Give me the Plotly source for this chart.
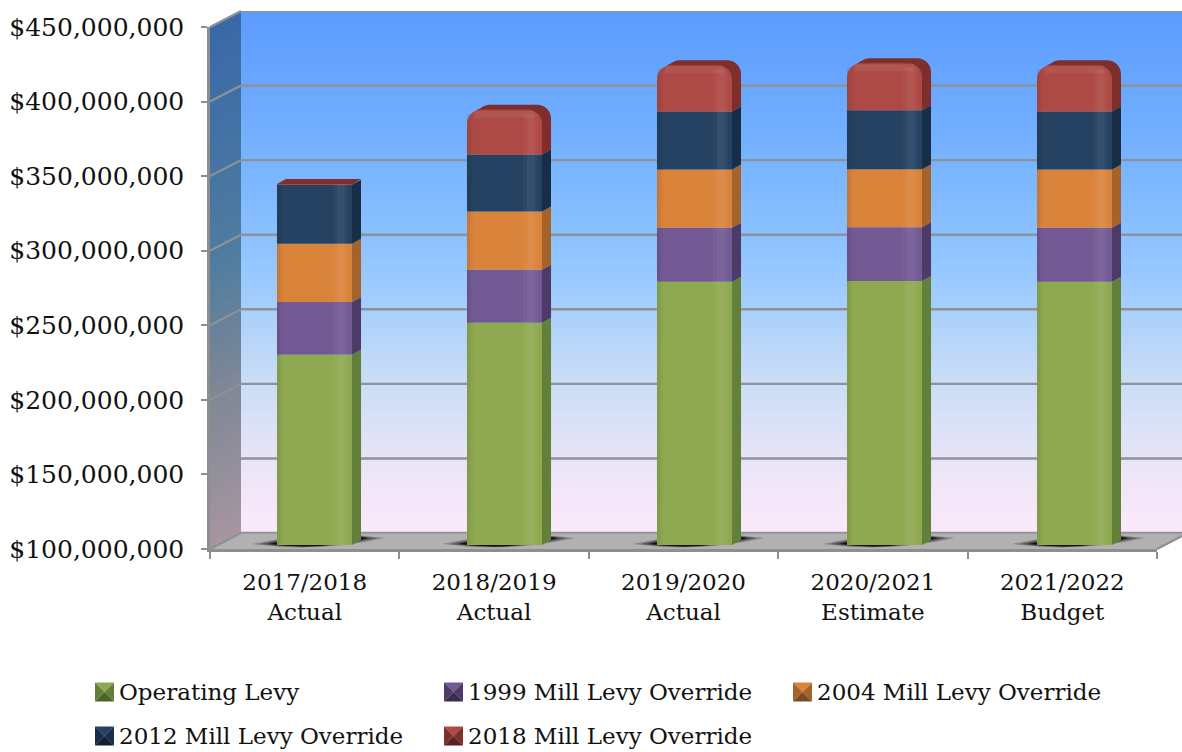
import numpy as np
import plotly.graph_objects as go

W, H = 1182, 752
FONT = "DejaVu Serif"

categories = ["2017/2018<br>Actual", "2018/2019<br>Actual", "2019/2020<br>Actual",
              "2020/2021<br>Estimate", "2021/2022<br>Budget"]
operating = [227.5e6, 249e6, 276.5e6, 277e6, 276.5e6]
mill_1999 = [35.5e6, 35.6e6, 36.2e6, 36e6, 36.2e6]
mill_2004 = [39e6, 39e6, 39e6, 39e6, 39e6]
mill_2012 = [39.5e6, 38.3e6, 39e6, 39.5e6, 39e6]
mill_2018 = [0.5e6, 30e6, 31e6, 31.5e6, 31e6]
y_ticks = [100e6, 150e6, 200e6, 250e6, 300e6, 350e6, 400e6, 450e6]

names = ["Operating Levy", "1999 Mill Levy Override", "2004 Mill Levy Override",
         "2012 Mill Levy Override", "2018 Mill Levy Override"]
series = [operating, mill_1999, mill_2004, mill_2012, mill_2018]
front_colors = ["#8fa951", "#735a94", "#da833b", "#264262", "#ae4a45"]
side_colors = ["#62803a", "#4c3b66", "#a4632c", "#182d47", "#7e2f2b"]
bottom_colors = ["#4c6329", "#392b4e", "#7d4a1f", "#0f2035", "#5f2120"]

# page positions of the fake 3d box, in pixels
FRONT_X = (210, 1157)
FRONT_Y = (27, 549)
BACK_X = (241, 1182)
BACK_Y = (11, 533)
BARS_X = (219.5, 1169.5)
BARS_Y = (23, 545)
BAR_W = 0.395          # in category units
PX_X = 1 / 190         # one pixel in category units
PX_Y = 350e6 / 522     # one pixel in dollars
DEPTH = (9, 5)         # bar depth in pixels
CORNER = 14


def dom_x(a, b):
    return [a / W, b / W]


def dom_y(top, bottom):
    return [1 - bottom / H, 1 - top / H]


def mix(c1, c2, t):
    return "rgb(%d,%d,%d)" % tuple(c1[i] + (c2[i] - c1[i]) * t for i in range(3))


fig = go.Figure()
shapes = []
annotations = []

# left wall, drawn as thin slanted bands so it gets a gradient
wall_stops = [(0, (58, 105, 170)), (0.45, (80, 125, 160)), (0.7, (128, 136, 150)), (1, (168, 150, 162))]
bands = 70
for i in range(bands):
    t = i / bands
    for k in range(len(wall_stops) - 1):
        if wall_stops[k][0] <= t <= wall_stops[k + 1][0]:
            s = (t - wall_stops[k][0]) / (wall_stops[k + 1][0] - wall_stops[k][0])
            col = mix(wall_stops[k][1], wall_stops[k + 1][1], s)
            break
    y0 = FRONT_Y[0] + (FRONT_Y[1] - FRONT_Y[0]) * t
    y1 = FRONT_Y[0] + (FRONT_Y[1] - FRONT_Y[0]) * (i + 1.3) / bands
    d = BACK_Y[0] - FRONT_Y[0]
    shapes.append(dict(type="path", xref="paper", yref="paper", layer="below", line_width=0, fillcolor=col,
                       path=f"M{FRONT_X[0] / W},{1 - y0 / H}L{BACK_X[0] / W},{1 - (y0 + d) / H}"
                            f"L{BACK_X[0] / W},{1 - (y1 + d) / H}L{FRONT_X[0] / W},{1 - y1 / H}Z"))

# floor
floor = [(FRONT_X[0], FRONT_Y[1]), (BACK_X[0], BACK_Y[1]), (1182, BACK_Y[1]), (1182, 536), (FRONT_X[1], FRONT_Y[1])]
shapes.append(dict(type="path", xref="paper", yref="paper", layer="below", line_width=0, fillcolor="#b1b1b1",
                   path="M" + "L".join(f"{x / W},{1 - y / H}" for x, y in floor) + "Z"))

# slanted grid lines on the left wall, and the edge up to the right of the floor
for i in range(len(y_ticks)):
    frac = i / (len(y_ticks) - 1)
    yf = FRONT_Y[1] - (FRONT_Y[1] - FRONT_Y[0]) * frac
    yb = BACK_Y[1] - (BACK_Y[1] - BACK_Y[0]) * frac
    shapes.append(dict(type="line", xref="paper", yref="paper", layer="below",
                       x0=FRONT_X[0] / W, y0=1 - yf / H, x1=BACK_X[0] / W, y1=1 - yb / H,
                       line=dict(color="#8e9296", width=2.2)))
shapes.append(dict(type="line", xref="paper", yref="paper", layer="below",
                   x0=FRONT_X[1] / W, y0=1 - FRONT_Y[1] / H, x1=1, y1=1 - 536 / H,
                   line=dict(color="#8e8e8e", width=2)))
shapes.append(dict(type="line", xref="paper", yref="paper", layer="below",
                   x0=BACK_X[0] / W, y0=1 - BACK_Y[1] / H, x1=1, y1=1 - BACK_Y[1] / H,
                   line=dict(color="#9a9a9a", width=1.5)))

# soft shadows on the floor under the bars
for i in range(len(categories)):
    cx = BARS_X[0] + (i + 0.5) * 190 + 4
    cy = 541
    for reach, thick, alpha in [(66, 9, 0.25), (58, 8, 0.4), (50, 7, 0.85)]:
        path = (f"M{(cx - reach) / W},{1 - (cy + 3) / H}"
                f"Q{cx / W},{1 - (cy + thick + 3) / H} {(cx + reach) / W},{1 - (cy - 3) / H}"
                f"Q{cx / W},{1 - (cy - thick - 3) / H} {(cx - reach) / W},{1 - (cy + 3) / H}Z")
        shapes.append(dict(type="path", xref="paper", yref="paper", layer="below", line_width=0,
                           fillcolor=f"rgba(10,5,10,{alpha})", path=path))

# back wall gradient, then its grid lines
fig.add_trace(go.Heatmap(x=[0, 1], y=[y_ticks[0], y_ticks[-1]], z=[[0, 0], [1, 1]], zsmooth="best",
                         showscale=False, hoverinfo="skip", xaxis="x2", yaxis="y2",
                         colorscale=[[0, "#fbe9fb"], [0.1, "#f0e6f8"], [0.3, "#c8dcf6"], [0.5, "#97c8ff"],
                                     [0.65, "#7fb9ff"], [0.85, "#6aa8ff"], [1, "#5b9bfd"]]))
grid_x, grid_y = [], []
for v in y_ticks:
    grid_x += [0, 1, None]
    grid_y += [v, v, None]
fig.add_trace(go.Scatter(x=grid_x, y=grid_y, mode="lines", cliponaxis=False, hoverinfo="skip", showlegend=False,
                         line=dict(color="#8e9296", width=2.4), xaxis="x2", yaxis="y2"))

x_pos = np.arange(len(categories))
values = np.array(series, dtype=float)
bases = np.vstack([np.zeros(len(categories)), np.cumsum(values, axis=0)[:-1]])
tops = bases + values
red = len(series) - 1
rounded = values[red] > 10e6
dx = DEPTH[0] * PX_X
dy = DEPTH[1] * PX_Y
# plotly rounds both ends of a bar with a base, so a square block goes over the lower end
square = np.where(rounded, values[red] - CORNER * 1.2 * PX_Y, values[red])

# rounded back of the top segment, swept in two steps on shifted axes
for frac, xa, ya in [(1.0, "x3", "y3"), (0.5, "x4", "y4")]:
    fig.add_trace(go.Bar(x=x_pos[rounded], y=values[red][rounded], base=bases[red][rounded], width=BAR_W,
                         marker=dict(color=side_colors[red], cornerradius=CORNER, line_width=0),
                         hoverinfo="skip", showlegend=False, xaxis=xa, yaxis=ya))
    fig.add_trace(go.Bar(x=x_pos[rounded], y=square[rounded], base=bases[red][rounded], width=BAR_W,
                         marker=dict(color=side_colors[red], line_width=0),
                         hoverinfo="skip", showlegend=False, xaxis=xa, yaxis=ya))

# side faces
for s in range(len(series)):
    px, py = [], []
    for i in x_pos:
        x0 = i + BAR_W / 2
        top = tops[s][i] - (CORNER * PX_Y if s == red and rounded[i] else 0)
        low = max(bases[s][i], y_ticks[0])
        px += [x0, x0 + dx, x0 + dx, x0, None]
        py += [low, low + dy, top + dy, top, None]
        if s == red and not rounded[i]:
            px += [x0 - BAR_W, x0, x0 + dx, x0 - BAR_W + dx, None]
            py += [top, top, top + dy, top + dy, None]
    fig.add_trace(go.Scatter(x=px, y=py, mode="lines", fill="toself", fillcolor=side_colors[s], line_width=0,
                             hoverinfo="skip", showlegend=False, xaxis="x5", yaxis="y5"))

# front faces
for s in range(len(series)):
    fig.add_trace(go.Bar(x=x_pos, y=values[s], base=bases[s], width=BAR_W, name=names[s],
                         marker=dict(color=front_colors[s], line_width=0, cornerradius=CORNER if s == red else 0),
                         hovertemplate="%{y:$,.0f}<extra>" + names[s] + "</extra>", xaxis="x5", yaxis="y5"))
fig.add_trace(go.Bar(x=x_pos, y=square, base=bases[red], width=BAR_W, hoverinfo="skip", showlegend=False,
                     marker=dict(color=front_colors[red], line_width=0), xaxis="x5", yaxis="y5"))

# cylinder shading on the front faces
strip_tops = tops[red] - np.where(rounded, 4 * PX_Y, 0) - y_ticks[0]
strips = [(0, 3, "rgba(0,0,0,0.08)"), (3, 3, "rgba(0,0,0,0.03)"), (56, 4, "rgba(255,255,255,0.03)"),
          (60, 8, "rgba(255,255,255,0.07)"), (68, 3, "rgba(255,255,255,0.03)")]
for start, width, color in strips:
    fig.add_trace(go.Bar(x=x_pos, y=strip_tops, base=y_ticks[0], width=width * PX_X,
                         offset=-BAR_W / 2 + start * PX_X,
                         marker=dict(color=color, line_width=0), hoverinfo="skip", showlegend=False,
                         xaxis="x5", yaxis="y5"))

# lighter band along the rounded top
fig.add_trace(go.Bar(x=x_pos[rounded], y=[7 * PX_Y] * int(rounded.sum()), base=tops[red][rounded] - 8 * PX_Y,
                     width=BAR_W - 16 * PX_X, marker=dict(color="rgba(255,255,255,0.06)", line_width=0),
                     hoverinfo="skip", showlegend=False, xaxis="x5", yaxis="y5"))

# keeps the category axis with its labels and the dollar axis alive
fig.add_trace(go.Scatter(x=categories, y=[y_ticks[0]] * len(categories), mode="markers", opacity=0,
                         hoverinfo="skip", showlegend=False, xaxis="x", yaxis="y"))

# legend, with the bevelled swatches of the original
legend_x = [95, 444, 793, 95, 444]
legend_y = [692, 692, 692, 736, 736]
S = 9.5
for name, col, side, low, lx, ly in zip(names, front_colors, side_colors, bottom_colors, legend_x, legend_y):
    cx, cy = lx + S, ly
    corners = [(cx - S, cy - S), (cx + S, cy - S), (cx + S, cy + S), (cx - S, cy + S)]
    face_cols = [col, side, low, side]
    for k in range(4):
        a, b = corners[k], corners[(k + 1) % 4]
        shapes.append(dict(type="path", xref="paper", yref="paper", line_width=0, fillcolor=face_cols[k],
                           path=f"M{a[0] / W},{1 - a[1] / H}L{b[0] / W},{1 - b[1] / H}L{cx / W},{1 - cy / H}Z"))
    annotations.append(dict(text=name, x=(lx + 22) / W, y=1 - ly / H, xref="paper", yref="paper",
                            xanchor="left", yanchor="middle", showarrow=False,
                            font=dict(family=FONT, size=23, color="#111111")))

hidden = dict(visible=False, fixedrange=True)
cat_range = [-0.5, len(categories) - 0.5]
val_range = [y_ticks[0], y_ticks[-1]]


def shifted_axes(frac):
    xd = dom_x(BARS_X[0] + DEPTH[0] * frac, BARS_X[1] + DEPTH[0] * frac)
    yd = dom_y(BARS_Y[0] - DEPTH[1] * frac, BARS_Y[1] - DEPTH[1] * frac)
    return dict(hidden, domain=xd, range=cat_range), dict(hidden, domain=yd, range=val_range)


x3, y3 = shifted_axes(1.0)
x4, y4 = shifted_axes(0.5)

fig.update_layout(
    width=W, height=H, margin=dict(l=0, r=0, t=0, b=0), paper_bgcolor="white", plot_bgcolor="rgba(0,0,0,0)",
    font=dict(family=FONT, size=23, color="#111111"), barmode="overlay", showlegend=False,
    shapes=shapes, annotations=annotations,
    xaxis=dict(type="category", domain=dom_x(*FRONT_X), tickson="boundaries", ticks="outside", ticklen=7,
               tickwidth=2, tickcolor="#8e8e8e", showline=True, linecolor="#8e8e8e", linewidth=2.5,
               showgrid=False, zeroline=False, fixedrange=True, categoryorder="array", automargin=False,
               categoryarray=categories, range=cat_range, anchor="y", ticklabelstandoff=11),
    yaxis=dict(domain=dom_y(*FRONT_Y), range=val_range, tickvals=y_ticks, automargin=False,
               ticktext=["$%s" % format(int(v), ",") for v in y_ticks], ticks="outside", ticklen=6, tickwidth=2,
               tickcolor="#8e8e8e", showline=True, linecolor="#8e8e8e", linewidth=2.5, showgrid=False,
               zeroline=False, fixedrange=True, anchor="x", ticklabelstandoff=12, tickfont=dict(size=25)),
    xaxis2=dict(hidden, domain=dom_x(*BACK_X), range=[0, 1], anchor="y2"),
    yaxis2=dict(hidden, domain=dom_y(*BACK_Y), range=val_range, anchor="x2"),
    xaxis3=dict(x3, anchor="y3"), yaxis3=dict(y3, anchor="x3"),
    xaxis4=dict(x4, anchor="y4"), yaxis4=dict(y4, anchor="x4"),
    xaxis5=dict(hidden, domain=dom_x(*BARS_X), range=cat_range, anchor="y5"),
    yaxis5=dict(hidden, domain=dom_y(*BARS_Y), range=val_range, anchor="x5"),
)

fig.write_html("out.html", config=dict(displayModeBar=False), post_script="document.body.style.margin='0';")
